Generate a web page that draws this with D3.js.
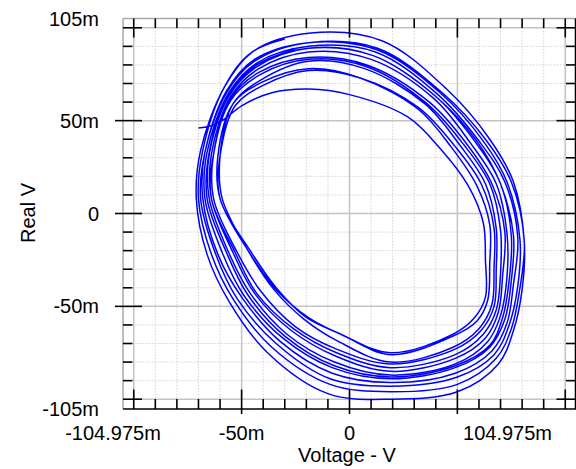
<!DOCTYPE html>
<html><head><meta charset="utf-8">
<script src="https://cdn.jsdelivr.net/npm/d3@7"></script>
<style>body{margin:0;background:#fff}svg{display:block}text{font-family:"Liberation Sans",Arial,sans-serif;fill:#000}</style>
</head><body><svg id="c" width="576" height="469"></svg>
<script>
// trace data (mV, mV), one array per loop
const startHook = [[-70,46],[-65,47],[-59,50],[-50,58],[-36,65]];
const loop1  = [[-19,67],[0,64],[27,52],[42,35],[55,15],[62,-5],[63,-25],[63,-45],[58,-56],[48,-65],[19,-75],[-4,-65],[-19,-56],[-34,-41],[-47,-20],[-60,8],[-61,31],[-54,59],[-40,71]];
const loop2  = [[-19,78],[5,73],[32,56],[47,36],[59,15],[65,-6],[65,-27],[64,-47],[59,-58],[48,-66],[19,-76],[-4,-65],[-20,-56],[-34,-40],[-46,-20],[-60,8],[-60,31],[-53,58],[-40,69]];
const loop3  = [[-19,77],[5,73],[32,57],[49,36],[61,16],[67,-8],[67,-29],[66,-49],[60,-62],[48,-72],[19,-80],[-5,-69],[-21,-57],[-35,-41],[-47,-20],[-59,8],[-60,31],[-54,59],[-41,72]];
const loop4  = [[-19,82],[7,78],[35,59],[51,37],[63,16],[68,-8],[68,-30],[67,-50],[61,-63],[49,-73],[19,-81],[-6,-73],[-25,-61],[-41,-42],[-52,-21],[-63,8],[-63,32],[-55,61],[-41,75]];
const loop5  = [[-19,83],[8,79],[36,59],[53,37],[65,16],[70,-9],[70,-32],[68,-52],[62,-65],[49,-76],[19,-83],[-6,-75],[-26,-62],[-43,-43],[-53,-21],[-64,8],[-63,32],[-55,62],[-42,76]];
const loop6  = [[-19,84],[8,80],[37,60],[54,38],[66,16],[72,-10],[71,-33],[69,-53],[63,-67],[49,-78],[19,-85],[-6,-77],[-27,-63],[-44,-43],[-54,-21],[-64,8],[-64,32],[-55,63],[-42,78]];
const loop7  = [[-19,87],[10,83],[39,62],[56,38],[68,16],[73,-11],[73,-34],[70,-55],[64,-69],[49,-81],[19,-87],[-7,-80],[-29,-65],[-46,-43],[-56,-21],[-65,8],[-65,32],[-56,63],[-43,79]];
const loop8  = [[-19,89],[11,85],[40,63],[58,39],[70,16],[75,-12],[74,-36],[71,-56],[65,-71],[49,-82],[19,-88],[-7,-82],[-30,-66],[-47,-44],[-57,-21],[-66,8],[-65,33],[-56,64],[-43,80]];
const loop9  = [[-19,89],[11,85],[40,63],[59,39],[70,16],[76,-12],[75,-36],[72,-57],[65,-72],[49,-83],[19,-89],[-8,-83],[-31,-67],[-49,-44],[-59,-21],[-67,8],[-66,33],[-56,65],[-43,81]];
const loop10 = [[-19,90],[12,87],[41,64],[60,39],[72,17],[78,-13],[76,-38],[73,-59],[66,-74],[49,-86],[19,-91],[-8,-86],[-32,-69],[-50,-45],[-61,-22],[-68,8],[-67,33],[-57,65],[-44,82]];
const loop11 = [[-19,92],[13,88],[42,65],[62,39],[73,17],[79,-14],[78,-39],[74,-60],[67,-76],[50,-88],[19,-93],[-9,-89],[-34,-70],[-52,-46],[-62,-22],[-69,8],[-67,33],[-57,66],[-44,83]];
const loop12 = [[-19,92],[13,89],[43,65],[63,40],[75,17],[81,-15],[79,-40],[75,-62],[68,-78],[50,-92],[19,-96],[-9,-92],[-36,-72],[-54,-46],[-64,-22],[-70,8],[-68,34],[-58,68],[-45,87]];
const loop13 = [[-19,97],[15,93],[45,67],[65,40],[76,17],[81,-15],[80,-41],[76,-63],[69,-81],[50,-96],[19,-100],[-10,-97],[-38,-75],[-56,-47],[-66,-22],[-71,8],[-69,34],[-58,68],[-45,87]];
const endTail = [[-30,94]];

const xTickValues = [-104.975, -50, 0, 104.975];
const xTickLabels = ["-104.975m", "-50m", "0", "104.975m"];
const yTickValues = [105, 50, 0, -50, -105];
const yTickLabels = ["105m", "50m", "0", "-50m", "-105m"];
const xTitle = "Voltage - V";
const yTitle = "Real V";

const svg = d3.select("#c");
const x = d3.scaleLinear().domain([-104.975, 104.975]).range([123, 576]);
const y = d3.scaleLinear().domain([-105, 105]).range([408.5, 18.5]);
const L = 123, R = 575.5, T = 18.5, B = 408.5;

const minor = x.ticks(20);            // every 10m, -100..100
const major = minor.filter(v => v % 50 === 0);
const g = svg.append("g");

minor.filter(v => v % 50 !== 0).forEach(v => {
  g.append("line").attr("x1", x(v)).attr("x2", x(v)).attr("y1", y(100)).attr("y2", y(-100))
    .attr("stroke", "#d2d2d2").attr("stroke-width", 1).attr("stroke-dasharray", "1.5,1.5");
  g.append("line").attr("y1", y(v)).attr("y2", y(v)).attr("x1", x(-100)).attr("x2", x(100))
    .attr("stroke", "#d2d2d2").attr("stroke-width", 1).attr("stroke-dasharray", "1.5,1.5");
});
major.forEach(v => {
  g.append("line").attr("x1", x(v)).attr("x2", x(v)).attr("y1", y(100)).attr("y2", y(-100))
    .attr("stroke", "#c4c4c4").attr("stroke-width", 1.5);
  g.append("line").attr("y1", y(v)).attr("y2", y(v)).attr("x1", x(-100)).attr("x2", x(100))
    .attr("stroke", "#c4c4c4").attr("stroke-width", 1.5);
});

const trace = [].concat(startHook, loop1, loop2, loop3, loop4, loop5, loop6, loop7, loop8, loop9, loop10, loop11, loop12, loop13, endTail);
const line = d3.line().x(d => x(d[0])).y(d => y(d[1])).curve(d3.curveCatmullRom.alpha(0.5));
svg.append("path").attr("d", line(trace)).attr("fill", "none").attr("stroke", "#0000ff").attr("stroke-width", 1.5);

svg.append("line").attr("x1", L).attr("x2", 576).attr("y1", T).attr("y2", T).attr("stroke", "#aea99f").attr("stroke-width", 1.5);
svg.append("line").attr("x1", L).attr("x2", L).attr("y1", T).attr("y2", B + 0.5).attr("stroke", "#aea99f").attr("stroke-width", 1.5);
svg.append("line").attr("x1", L).attr("x2", 576).attr("y1", B + 0.5).attr("y2", B + 0.5).attr("stroke", "#000").attr("stroke-width", 1.5);
svg.append("line").attr("x1", R).attr("x2", R).attr("y1", T).attr("y2", B + 0.5).attr("stroke", "#000").attr("stroke-width", 1.5);

const tk = svg.append("g").attr("stroke", "#000").attr("stroke-width", 1.6);
minor.forEach(v => {
  const isMajor = v % 50 === 0;
  const labeled = isMajor && Math.abs(v) < 100;
  const len = isMajor ? 19 : 9.5;
  tk.append("line").attr("x1", x(v)).attr("x2", x(v)).attr("y1", B + (labeled ? 5.5 : 0.5)).attr("y2", B - len);
  tk.append("line").attr("x1", x(v)).attr("x2", x(v)).attr("y1", T).attr("y2", T + len);
  tk.append("line").attr("y1", y(v)).attr("y2", y(v)).attr("x1", L - (labeled ? 8 : 0)).attr("x2", L + len);
  tk.append("line").attr("y1", y(v)).attr("y2", y(v)).attr("x1", 576).attr("x2", R - len);
});

const fs = 20;
svg.append("g").selectAll("text").data(xTickValues).join("text")
  .attr("x", (d, i) => x(d) + (i === 0 ? -10 : 0) + (i === xTickValues.length - 1 ? -24 : 0))
  .attr("y", 440)
  .attr("text-anchor", (d, i) => i === xTickValues.length - 1 ? "end" : "middle")
  .attr("font-size", fs)
  .text((d, i) => xTickLabels[i]);
svg.append("g").selectAll("text").data(yTickValues).join("text")
  .attr("x", 99)
  .attr("y", d => y(d) + 7)
  .attr("text-anchor", "end")
  .attr("font-size", fs)
  .text((d, i) => yTickLabels[i]);
svg.append("text").attr("x", 347).attr("y", 462).attr("text-anchor", "middle").attr("font-size", fs).text(xTitle);
svg.append("text").attr("transform", "translate(35,213) rotate(-90)").attr("text-anchor", "middle").attr("font-size", fs).text(yTitle);
</script></body></html>
